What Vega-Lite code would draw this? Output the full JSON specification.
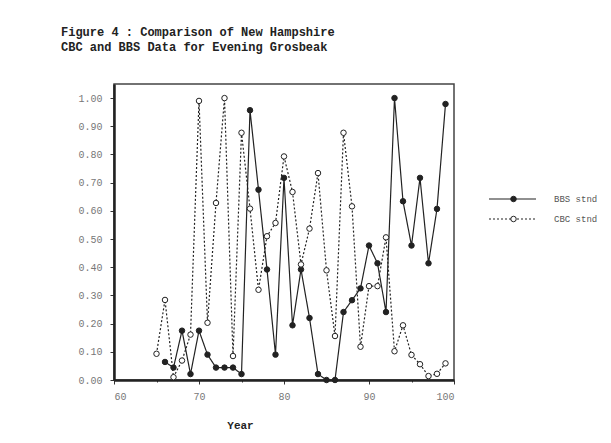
{
  "$schema": "https://vega.github.io/schema/vega-lite/v6.json",
  "width": 340,
  "height": 296,
  "autosize": {"type": "none"},
  "padding": {"left": 114, "top": 84, "right": 157, "bottom": 63},
  "background": "white",
  "title": {
    "text": ["Figure 4 : Comparison of New Hampshire", "\u2007CBC and BBS Data for Evening Grosbeak"],
    "anchor": "start",
    "frame": "group",
    "dx": -53,
    "offset": 30,
    "font": "Liberation Mono",
    "fontSize": 12,
    "fontWeight": "bold",
    "color": "#222",
    "lineHeight": 15
  },
  "config": {
    "view": {"stroke": "#444", "strokeWidth": 1.5},
    "axis": {
      "grid": false,
      "domainColor": "#222",
      "domainWidth": 2.5,
      "tickColor": "#333",
      "labelFont": "Liberation Mono",
      "labelFontSize": 10,
      "labelColor": "#777",
      "titleFont": "Liberation Mono"
    },
    "legend": {
      "labelFont": "Liberation Mono",
      "labelFontSize": 9,
      "labelColor": "#555"
    }
  },
  "data": {
    "values": [
      {"year": 66, "series": "BBS stnd", "value": 0.064},
      {"year": 67, "series": "BBS stnd", "value": 0.044},
      {"year": 68, "series": "BBS stnd", "value": 0.175},
      {"year": 69, "series": "BBS stnd", "value": 0.021},
      {"year": 70, "series": "BBS stnd", "value": 0.175},
      {"year": 71, "series": "BBS stnd", "value": 0.09},
      {"year": 72, "series": "BBS stnd", "value": 0.044},
      {"year": 73, "series": "BBS stnd", "value": 0.044},
      {"year": 74, "series": "BBS stnd", "value": 0.044},
      {"year": 75, "series": "BBS stnd", "value": 0.021},
      {"year": 76, "series": "BBS stnd", "value": 0.957},
      {"year": 77, "series": "BBS stnd", "value": 0.675},
      {"year": 78, "series": "BBS stnd", "value": 0.392},
      {"year": 79, "series": "BBS stnd", "value": 0.09},
      {"year": 80, "series": "BBS stnd", "value": 0.717},
      {"year": 81, "series": "BBS stnd", "value": 0.194},
      {"year": 82, "series": "BBS stnd", "value": 0.392},
      {"year": 83, "series": "BBS stnd", "value": 0.22},
      {"year": 84, "series": "BBS stnd", "value": 0.021},
      {"year": 85, "series": "BBS stnd", "value": 0.0},
      {"year": 86, "series": "BBS stnd", "value": 0.0},
      {"year": 87, "series": "BBS stnd", "value": 0.241},
      {"year": 88, "series": "BBS stnd", "value": 0.283},
      {"year": 89, "series": "BBS stnd", "value": 0.325},
      {"year": 90, "series": "BBS stnd", "value": 0.477},
      {"year": 91, "series": "BBS stnd", "value": 0.414},
      {"year": 92, "series": "BBS stnd", "value": 0.241},
      {"year": 93, "series": "BBS stnd", "value": 1.0},
      {"year": 94, "series": "BBS stnd", "value": 0.634},
      {"year": 95, "series": "BBS stnd", "value": 0.477},
      {"year": 96, "series": "BBS stnd", "value": 0.717},
      {"year": 97, "series": "BBS stnd", "value": 0.414},
      {"year": 98, "series": "BBS stnd", "value": 0.607},
      {"year": 99, "series": "BBS stnd", "value": 0.979},
      {"year": 65, "series": "CBC stnd", "value": 0.093},
      {"year": 66, "series": "CBC stnd", "value": 0.284},
      {"year": 67, "series": "CBC stnd", "value": 0.01},
      {"year": 68, "series": "CBC stnd", "value": 0.069},
      {"year": 69, "series": "CBC stnd", "value": 0.161},
      {"year": 70, "series": "CBC stnd", "value": 0.99},
      {"year": 71, "series": "CBC stnd", "value": 0.203},
      {"year": 72, "series": "CBC stnd", "value": 0.628},
      {"year": 73, "series": "CBC stnd", "value": 1.0},
      {"year": 74, "series": "CBC stnd", "value": 0.085},
      {"year": 75, "series": "CBC stnd", "value": 0.877},
      {"year": 76, "series": "CBC stnd", "value": 0.608},
      {"year": 77, "series": "CBC stnd", "value": 0.32},
      {"year": 78, "series": "CBC stnd", "value": 0.51},
      {"year": 79, "series": "CBC stnd", "value": 0.557},
      {"year": 80, "series": "CBC stnd", "value": 0.793},
      {"year": 81, "series": "CBC stnd", "value": 0.667},
      {"year": 82, "series": "CBC stnd", "value": 0.41},
      {"year": 83, "series": "CBC stnd", "value": 0.537},
      {"year": 84, "series": "CBC stnd", "value": 0.734},
      {"year": 85, "series": "CBC stnd", "value": 0.389},
      {"year": 86, "series": "CBC stnd", "value": 0.156},
      {"year": 87, "series": "CBC stnd", "value": 0.877},
      {"year": 88, "series": "CBC stnd", "value": 0.616},
      {"year": 89, "series": "CBC stnd", "value": 0.118},
      {"year": 90, "series": "CBC stnd", "value": 0.333},
      {"year": 91, "series": "CBC stnd", "value": 0.333},
      {"year": 92, "series": "CBC stnd", "value": 0.506},
      {"year": 93, "series": "CBC stnd", "value": 0.102},
      {"year": 94, "series": "CBC stnd", "value": 0.194},
      {"year": 95, "series": "CBC stnd", "value": 0.089},
      {"year": 96, "series": "CBC stnd", "value": 0.056},
      {"year": 97, "series": "CBC stnd", "value": 0.014},
      {"year": 98, "series": "CBC stnd", "value": 0.022},
      {"year": 99, "series": "CBC stnd", "value": 0.059}
    ]
  },
  "encoding": {
    "x": {
      "field": "year",
      "type": "quantitative",
      "scale": {"domain": [60, 100], "nice": false, "zero": false},
      "axis": {
        "values": [60, 65, 70, 75, 80, 85, 90, 95, 100],
        "labelExpr": "datum.value % 10 === 0 ? datum.label : ''",
        "tickSize": {"condition": {"test": "datum.value % 10 === 0", "value": 4}, "value": 2},
        "labelPadding": 7,
        "title": "Year",
        "titleFontSize": 11,
        "titleFontWeight": "bold",
        "titleColor": "#222",
        "titleX": 126,
        "titleY": 45,
        "titleAlign": "center",
        "titleBaseline": "middle"
      }
    },
    "y": {
      "field": "value",
      "type": "quantitative",
      "scale": {"domain": [0, 1.05], "nice": false},
      "axis": {
        "values": [0, 0.1, 0.2, 0.3, 0.4, 0.5, 0.6, 0.7, 0.8, 0.9, 1.0],
        "format": ".2f",
        "tickSize": 4,
        "labelPadding": 8,
        "title": null
      }
    }
  },
  "layer": [
    {
      "mark": {"type": "line", "color": "#222", "strokeWidth": 1.2},
      "encoding": {
        "detail": {"field": "series"},
        "strokeDash": {
          "field": "series",
          "type": "nominal",
          "scale": {"range": [[1, 0], [2, 2]]},
          "legend": {
            "orient": "none",
            "legendX": 374,
            "legendY": 106,
            "padding": 0,
            "title": null,
            "symbolType": "stroke",
            "symbolSize": 2209,
            "symbolStrokeColor": "#222",
            "symbolStrokeWidth": 1.2,
            "labelOffset": 17,
            "clipHeight": 18,
            "rowPadding": 2
          }
        }
      }
    },
    {
      "mark": {"type": "point", "shape": "circle", "filled": true, "stroke": "#222", "strokeWidth": 1, "size": 30, "opacity": 1},
      "encoding": {
        "fill": {
          "field": "series",
          "type": "nominal",
          "scale": {"domain": ["BBS stnd", "CBC stnd"], "range": ["#222", "white"]},
          "legend": {
            "orient": "none",
            "legendX": 374,
            "legendY": 106,
            "padding": 0,
            "title": null,
            "symbolType": "circle",
            "symbolSize": 30,
            "symbolStrokeColor": "#222",
            "symbolStrokeWidth": 1,
            "symbolOffset": 21,
            "labelExpr": "''",
            "clipHeight": 18,
            "rowPadding": 2
          }
        }
      }
    }
  ]
}
